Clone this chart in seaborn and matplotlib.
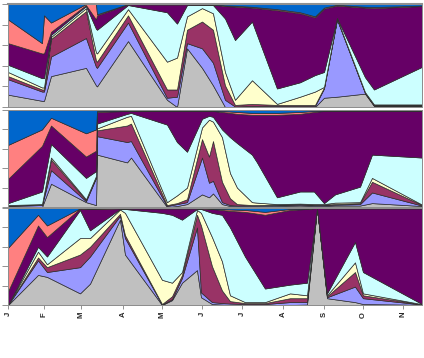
import numpy as np
import matplotlib
matplotlib.use("Agg")
import matplotlib.pyplot as plt
import seaborn as sns

sns.set_theme(style="white")
plt.rcParams['font.family'] = ['Liberation Sans', 'DejaVu Sans']

# month ticks (position along the time axis)
months = ["J", "F", "M", "A", "M", "J", "J", "A", "S", "O", "N"]
month_pos = [8, 44, 81, 123, 162, 202, 242, 283, 324, 363, 403]

# series order, bottom to top (Excel default palette)
series_colors = ["#C0C0C0", "#9999FF", "#993366", "#FFFFCC",
                 "#CCFFFF", "#660066", "#FF8080", "#0066CC"]

# cumulative share (%) at the top of each series, panel 1
p1_x = [8, 42, 44, 51, 86, 96, 97, 128, 167, 177, 187, 202, 213, 225, 235, 252, 277, 300, 315, 324, 337, 365, 374, 422]
p1_gray = [12, 6, 6, 30, 38, 21, 20, 64, 7, 0, 57, 38, 21, 0, 0, 0, 0, 0, 0, 9, 10, 13, 1, 1]
p1_lav = [27, 15, 15, 49, 67, 39, 38, 82, 9, 10, 62, 57, 43, 7, 0.5, 1, 1, 1, 1, 18, 85, 13.5, 1.5, 1.5]
p1_plum = [30, 17, 17, 66, 93, 45, 44, 89, 17, 17, 75, 83, 75, 21, 2, 3, 2, 2, 2, 19, 85.5, 14, 2, 2]
p1_ivory = [34, 19, 19, 68, 96, 53, 52, 95, 44, 48, 88, 96, 91, 34, 7, 26, 3, 10, 15, 19.5, 86, 14.5, 2.5, 2.5]
p1_cyan = [41, 28, 28, 70, 98, 76, 75, 99, 92, 81, 99, 99, 99, 86, 65, 83, 18, 24, 31, 34, 86.5, 29, 17, 39]
p1_purple = [62, 52, 52, 73, 99, 85, 89, 99.7, 99.5, 99.5, 99.7, 99.7, 99.5, 98, 97.5, 96.5, 94, 91, 87, 95.5, 98.5, 96.5, 96, 98]
p1_salmon = [85, 62, 89, 82, 100, 100, 90, 100, 100, 100, 100, 100, 99.7, 98.7, 98.3, 97.3, 95, 92, 88, 96.5, 99.3, 97.3, 97, 98.5]

# panel 2
p2_x = [8, 42, 51, 86, 96, 97, 127, 131, 167, 177, 187, 202, 209, 213, 222, 230, 237, 252, 257, 277, 300, 314, 324, 335, 360, 372, 422]
p2_gray = [0, 0, 24, 5, 2, 54, 46, 51, 0, 1, 3, 13, 10, 14, 3, 1, 0.5, 0.5, 0.5, 1, 1.5, 1, 1, 1.5, 1.5, 4, 1]
p2_lav = [1, 2, 38, 6, 30, 73, 67, 68, 1, 3, 5, 51, 25, 27, 5, 2, 1.5, 1.5, 1.5, 2, 2.5, 2, 2, 2.5, 3, 15, 1.5]
p2_plum = [1.5, 2.5, 49, 7, 31, 79, 84, 86, 2, 4, 8, 70, 52, 68, 26, 9, 3, 2, 2, 2.5, 3, 2.5, 2.5, 3, 4, 26, 2]
p2_ivory = [2, 3, 51, 8, 32, 81, 93, 94, 5, 12, 20, 82, 90, 88, 72, 35, 20, 5, 4.5, 3, 3.5, 3, 3, 4.5, 5, 30, 2.5]
p2_cyan = [4, 16, 65, 30, 37, 86, 96, 97, 85, 67, 57, 91, 94, 93, 80, 72, 66, 54, 46, 10, 16, 16, 4, 13, 21, 54, 51]
p2_purple = [29, 63, 84, 52, 58, 98, 99, 99, 99, 99, 99, 99, 99, 99, 98, 97, 96, 95, 95, 95, 96, 98, 99, 99, 99, 99, 99]
p2_salmon = [64, 80, 92, 76, 80, 99, 99.5, 99.5, 99.5, 99.5, 99.5, 99.5, 99.5, 99.5, 99, 98.5, 98, 97, 97, 97, 98, 99, 99.5, 99.5, 99.5, 99.5, 99.5]

# panel 3
p3_x = [8, 38, 47, 80, 90, 120, 125, 162, 172, 182, 197, 201, 212, 222, 230, 245, 265, 290, 307, 317, 327, 355, 363, 422]
p3_gray = [0, 31, 29, 12, 22, 88, 52, 0, 5, 23, 36, 8, 1, 0.5, 0, 0, 0, 0, 0.5, 100, 7, 3, 1, 0.3]
p3_lav = [0, 46, 34, 39, 50, 92, 69, 0.5, 6, 28, 80, 13, 3, 2, 1.5, 1, 1, 3, 3, 100, 8, 19, 7, 0.5]
p3_plum = [0, 49, 39, 52, 60, 94, 72, 1, 9, 31, 93, 82, 40, 15, 4, 2, 2, 7, 7, 100, 9, 34, 10, 0.7]
p3_ivory = [0, 55, 42, 69, 69, 98.5, 95, 26, 23, 34, 98, 95, 70, 45, 10, 3, 3, 12, 10, 100, 10, 44, 12, 0.9]
p3_cyan = [0, 60, 50, 98, 77, 99, 99, 95, 93, 88, 99, 99, 95, 93, 80, 50, 17, 21, 23, 100, 12, 65, 34, 1]
p3_purple = [14, 82, 70, 99.5, 99, 99.5, 99.5, 99.5, 99.5, 99.5, 99.5, 99.5, 99, 98, 97, 96, 93, 98, 99, 100, 99.5, 99.5, 99.5, 99.5]
p3_salmon = [59, 93, 82, 99.7, 99.5, 100, 100, 100, 100, 100, 100, 100, 99.5, 99, 98.5, 98, 96, 99, 99.5, 100, 100, 100, 100, 100]

panels = [
    (p1_x, [p1_gray, p1_lav, p1_plum, p1_ivory, p1_cyan, p1_purple, p1_salmon]),
    (p2_x, [p2_gray, p2_lav, p2_plum, p2_ivory, p2_cyan, p2_purple, p2_salmon]),
    (p3_x, [p3_gray, p3_lav, p3_plum, p3_ivory, p3_cyan, p3_purple, p3_salmon]),
]

pal = sns.color_palette(series_colors)

W, H = 424, 358
fig = plt.figure(figsize=(W / 100, H / 100), dpi=100)
fig.patch.set_facecolor("white")

# plot areas in pixels: (top, bottom)
boxes = [(4, 107), (110, 207), (208, 305)]
left_px, right_px = 8, 422

for i, ((x, tops), (t, b)) in enumerate(zip(panels, boxes)):
    ax = fig.add_axes([left_px / W, 1 - b / H, (right_px - left_px) / W, (b - t) / H])
    ax.set_facecolor("#C0C0C0")
    n = len(x)
    levels = np.vstack([np.zeros(n)] + [np.array(s, float) for s in tops] + [np.full(n, 100.0)])
    shares = np.clip(np.diff(levels, axis=0), 0, None)
    ax.stackplot(x, shares, colors=pal, edgecolor="#303030", linewidth=0.5)
    ax.set_xlim(left_px, right_px)
    ax.set_ylim(0, 100)
    ax.set_yticks([0, 20, 40, 60, 80, 100])
    ax.set_yticklabels([])
    ax.tick_params(axis="y", left=True, direction="out", length=4, width=0.6, color="#808080")
    for sp in ax.spines.values():
        sp.set_color("#909090")
        sp.set_linewidth(0.7)
    if i == 0:
        ax.spines["top"].set_linewidth(1.5)
    if i == 2:
        ax.set_xticks(month_pos)
        ax.set_xticklabels(months, rotation=90, fontsize=5.5, fontweight="bold")
        ax.tick_params(axis="x", bottom=True, direction="out", length=3, width=0.6,
                       color="#808080", pad=2)
    else:
        ax.set_xticks([])

fig.savefig("out.png", dpi=100)
